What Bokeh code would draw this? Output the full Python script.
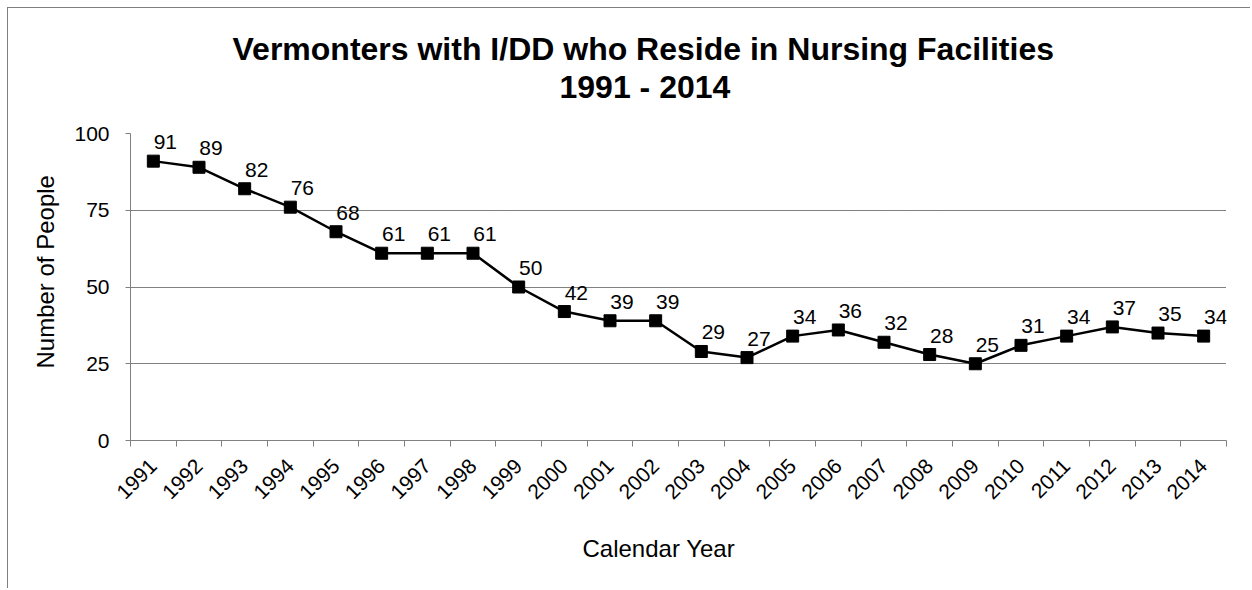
from bokeh.plotting import figure
from bokeh.models import Range1d, FixedTicker, Title, LabelSet, ColumnDataSource
from bokeh.embed import file_html
from bokeh.resources import INLINE
from bokeh.core.properties import value
import math

# ---- data ----
years = [1991, 1992, 1993, 1994, 1995, 1996, 1997, 1998, 1999, 2000, 2001, 2002,
         2003, 2004, 2005, 2006, 2007, 2008, 2009, 2010, 2011, 2012, 2013, 2014]
people = [91, 89, 82, 76, 68, 61, 61, 61, 50, 42, 39, 39, 29, 27,
          34, 36, 32, 28, 25, 31, 34, 37, 35, 34]
y_ticks = [0, 25, 50, 75, 100]
grid_ticks = [25, 50, 75, 100]

title_text = "Vermonters with I/DD who Reside in Nursing Facilities"
subtitle_text = "1991 - 2014"
x_title = "Calendar Year"
y_title = "Number of People"

FONT = "Liberation Sans"
AXIS_GREY = "#808080"

src = ColumnDataSource(dict(x=years, y=people, lab=[str(v) for v in people]))

p = figure(width=1243, height=581, output_backend="svg", toolbar_location=None,
           x_range=Range1d(years[0] - 0.5, years[-1] + 0.5),
           y_range=Range1d(0, 100),
           min_border_left=122, min_border_right=25, min_border_top=125,
           min_border_bottom=149)
p.styles = {"margin-left": "7px", "margin-top": "7px",
            "border-left": "1px solid #7f7f7f", "border-top": "1px solid #7f7f7f"}
p.outline_line_color = None
p.background_fill_color = "white"
p.border_fill_color = "white"

# y axis
ya = p.yaxis[0]
ya.ticker = FixedTicker(ticks=y_ticks)
ya.axis_line_color = AXIS_GREY
ya.major_tick_line_color = AXIS_GREY
ya.major_tick_in = 0
ya.major_tick_out = 5
ya.minor_tick_line_color = None
ya.major_label_text_font = FONT
ya.major_label_text_font_size = "21px"
ya.major_label_text_color = "black"
ya.major_label_standoff = 16

p.xgrid.visible = False
p.ygrid.ticker = FixedTicker(ticks=grid_ticks)
p.ygrid.grid_line_color = "black"
p.ygrid.grid_line_dash = "1 1"
p.ygrid.grid_line_width = 1

# x axis: labels at category centres, tick marks at category boundaries
bounds = [y - 0.5 for y in years] + [years[-1] + 0.5]
xa = p.xaxis[0]
xa.ticker = FixedTicker(ticks=years, minor_ticks=bounds)
xa.axis_line_color = AXIS_GREY
xa.major_tick_line_color = None
xa.major_tick_in = 0
xa.major_tick_out = 0
xa.minor_tick_line_color = AXIS_GREY
xa.minor_tick_in = 0
xa.minor_tick_out = 6
xa.major_label_orientation = math.pi / 4
xa.major_label_text_font = FONT
xa.major_label_text_font_size = "21px"
xa.major_label_text_color = "black"
xa.major_label_standoff = 16

def make_title(text, size, style, offset, standoff, valign="bottom"):
    return Title(text=text, align="left", offset=offset, standoff=standoff,
                 vertical_align=valign,
                 text_font=FONT, text_font_size=size, text_font_style=style,
                 text_color="black")

# blank spacer panel between the plot frame and the two title lines
p.add_layout(make_title(" ", "24px", "normal", 0, 0), "above")
p.add_layout(make_title(subtitle_text, "32px", "bold", 429, 0), "above")
p.add_layout(make_title(title_text, "32px", "bold", 102, 0), "above")
p.add_layout(make_title(x_title, "24px", "normal", 452, 52, "top"), "below")
p.add_layout(make_title(y_title, "24px", "normal", 72, 26), "left")

# data
p.line("x", "y", source=src, line_color="black", line_width=2.5)
p.scatter("x", "y", source=src, marker="square", size=12,
          fill_color="black", line_color="black")
p.add_layout(LabelSet(x="x", y="y", text="lab", source=src,
                      x_offset=12, y_offset=19,
                      text_align="center", text_baseline="middle",
                      text_font=value(FONT), text_font_size=value("21px"),
                      text_color="black"))

open("out.html", "w").write(file_html(p, INLINE))
